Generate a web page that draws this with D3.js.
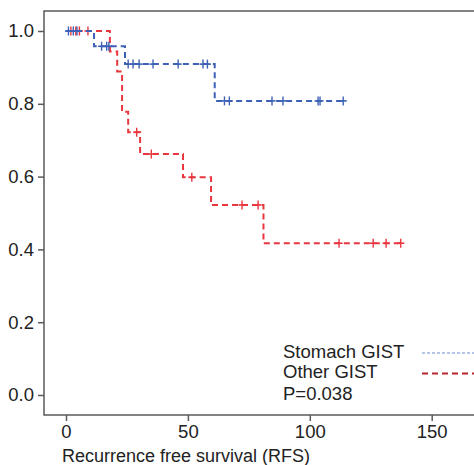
<!DOCTYPE html>
<html>
<head>
<meta charset="utf-8">
<script src="https://cdn.jsdelivr.net/npm/d3@7"></script>
<style>
  body { margin: 0; background: #fff; }
  text { font-family: "Liberation Sans", Arial, sans-serif; }
</style>
</head>
<body>
<div id="chart"></div>
<script>
// Kaplan-Meier steps: [time, survival]
var stomachSteps = [[0, 1], [11.5, 0.958], [24.2, 0.909], [61, 0.808]];
var stomachEnd = 113.7;
var stomachCensor = [1, 3, 4.5, 14.6, 16.7, 17.6, 25.5, 27.5, 30, 35.7, 46, 56.2, 58, 65, 67, 84.5, 89, 103.4, 104.2, 113.7];

var otherSteps = [[0, 1], [18, 0.944], [21, 0.889], [23, 0.778], [25.5, 0.722], [30.4, 0.662], [48, 0.598], [59.5, 0.522], [81, 0.417]];
var otherEnd = 137.5;
var otherCensor = [2, 4, 5.5, 9, 29, 35, 51.6, 72.2, 78.8, 112, 126, 131.3, 137.3];

var xTicks = [0, 50, 100, 150];
var yTicks = [0, 0.2, 0.4, 0.6, 0.8, 1.0];
var legendLabels = ["Stomach GIST", "Other GIST"];
var pValue = "P=0.038";

var width = 474, height = 465;
var frame = {left: 44, top: 11, bottom: 415, right: 480};

var svg = d3.select("#chart").append("svg")
    .attr("width", width)
    .attr("height", height);

var x = d3.scaleLinear().domain([0, 150]).range([66, 431.7]);
var y = d3.scaleLinear().domain([0, 1]).range([395, 31]);

// frame
svg.append("rect")
    .attr("x", frame.left).attr("y", frame.top)
    .attr("width", frame.right - frame.left)
    .attr("height", frame.bottom - frame.top)
    .attr("fill", "none")
    .attr("stroke", "#5a5a5a")
    .attr("stroke-width", 1.5);

// axes
var xAxis = svg.append("g")
    .attr("transform", "translate(0," + frame.bottom + ")")
    .call(d3.axisBottom(x).tickValues(xTicks).tickSize(6).tickPadding(4).tickFormat(d3.format("d")));

var yAxis = svg.append("g")
    .attr("transform", "translate(" + frame.left + ",0)")
    .call(d3.axisLeft(y).tickValues(yTicks).tickSize(6).tickPadding(4).tickFormat(d3.format(".1f")));

[xAxis, yAxis].forEach(function(ax) {
    ax.select(".domain").remove();
    ax.selectAll(".tick line").attr("stroke", "#5a5a5a").attr("stroke-width", 1.5);
    ax.selectAll(".tick text")
        .attr("fill", "#222")
        .style("font-size", "18.5px")
        .style("font-family", "'Liberation Sans', Arial, sans-serif");
});

svg.append("text")
    .attr("x", 62).attr("y", 462)
    .attr("fill", "#222")
    .style("font-size", "18px")
    .text("Recurrence free survival (RFS)");

function survAt(steps, t) {
    var s = 1;
    steps.forEach(function(p) { if (p[0] <= t) s = p[1]; });
    return s;
}

function drawCurve(steps, end, censor, color) {
    var pts = steps.concat([[end, steps[steps.length - 1][1]]]);
    var line = d3.line()
        .x(function(d) { return x(d[0]); })
        .y(function(d) { return y(d[1]); })
        .curve(d3.curveStepAfter);

    svg.append("path")
        .datum(pts)
        .attr("d", line)
        .attr("fill", "none")
        .attr("stroke", color)
        .attr("stroke-width", 2)
        .attr("stroke-dasharray", "6,4");

    // censor marks drawn as small "+"
    var marks = svg.append("g").selectAll("g")
        .data(censor)
        .enter().append("g")
        .attr("transform", function(d) {
            return "translate(" + x(d) + "," + y(survAt(steps, d)) + ")";
        });
    marks.append("line")
        .attr("x1", 0).attr("x2", 0).attr("y1", -4.5).attr("y2", 4.5)
        .attr("stroke", color).attr("stroke-width", 1.4);
    marks.append("line")
        .attr("x1", -3.5).attr("x2", 3.5).attr("y1", 0).attr("y2", 0)
        .attr("stroke", color).attr("stroke-width", 1.6);
}

drawCurve(otherSteps, otherEnd, otherCensor, "#e8363f");
drawCurve(stomachSteps, stomachEnd, stomachCensor, "#3d61b6");

// legend
var legend = svg.append("g");
legend.selectAll("text")
    .data(legendLabels.concat([pValue]))
    .enter().append("text")
    .attr("x", 283)
    .attr("y", function(d, i) { return [358, 378, 400][i]; })
    .attr("fill", "#222")
    .style("font-size", "18.5px")
    .text(function(d) { return d; });

legend.append("line")
    .attr("x1", 422).attr("x2", 474).attr("y1", 353).attr("y2", 353)
    .attr("stroke", "#6a8bd0").attr("stroke-width", 1)
    .attr("stroke-dasharray", "3,2");
legend.append("line")
    .attr("x1", 422).attr("x2", 474).attr("y1", 373.5).attr("y2", 373.5)
    .attr("stroke", "#b8262f").attr("stroke-width", 2)
    .attr("stroke-dasharray", "6,4");
</script>
</body>
</html>
